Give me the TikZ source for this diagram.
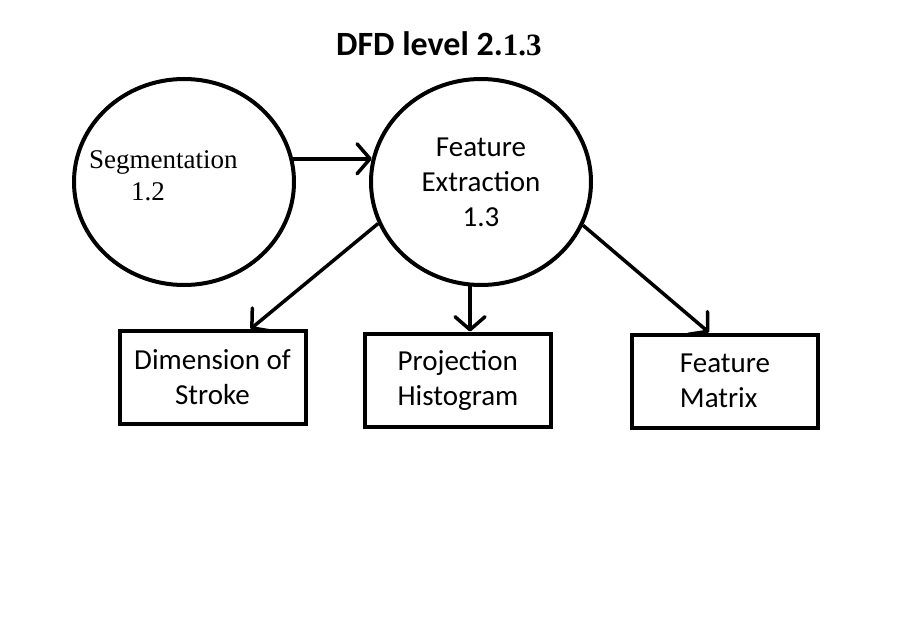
\documentclass[tikz,border=0pt]{standalone}
\usepackage{fontspec}
\setmainfont{Carlito}
\newfontfamily\timesfont{Liberation Serif}
\usetikzlibrary{arrows.meta,positioning,shapes.geometric}
\tikzset{
	process/.style={
		ellipse, draw, line width=4pt,
		minimum width=220pt, minimum height=206pt, inner sep=0pt,
	},
	store/.style={
		rectangle, draw, line width=4pt,
		minimum width=186pt, minimum height=93pt, inner sep=0pt,
	},
	sanstext/.style={font=\fontsize{29}{35}\selectfont},
	flow/.style={
		draw, line width=3.5pt,
		-{Straight Barb[length=13pt,width=30pt,line width=3.5pt,round]},
	}
}

\begin{document}
\begin{tikzpicture}[x=1pt, y=-1pt]
	\useasboundingbox (0,0) rectangle (897,618);
	% Title
	\node[anchor=base west, inner sep=0pt, font=\bfseries\fontsize{34}{40}\selectfont] (title) at (336,56)
		{DFD level 2.{\timesfont\fontsize{31}{36}\selectfont 1.3}};
	% Processes
	\node[process] (seg) at (184,182) {};
	\node[anchor=west, inner sep=0pt, align=left, font=\timesfont\fontsize{27}{32}\selectfont] (segtext) at (89,176)
		{Segmentation\\\hspace*{42pt}1.2};
	\node[process, sanstext, align=center] (feat) at (481,182) {Feature\\Extraction\\1.3};
	% Outputs
	\node[store, sanstext, align=center] (dim) at (212.5,377.5) {Dimension of\\Stroke};
	\node[store, sanstext, align=left] (hist) at (458,380) {Projection\\Histogram};
	\node[store, sanstext, align=left] (mat) at (725,381) {Feature\\Matrix};
	% Flows
	\draw[flow] (seg.12) -- (feat.168);
	\draw[flow] (feat.202) -- ([xshift=38pt]dim.north);
	\draw[flow] (feat.264) -- (feat.264 |- hist.north);
	\draw[flow] (feat.337) -- ([xshift=-16pt]mat.north);
\end{tikzpicture}
\end{document}
